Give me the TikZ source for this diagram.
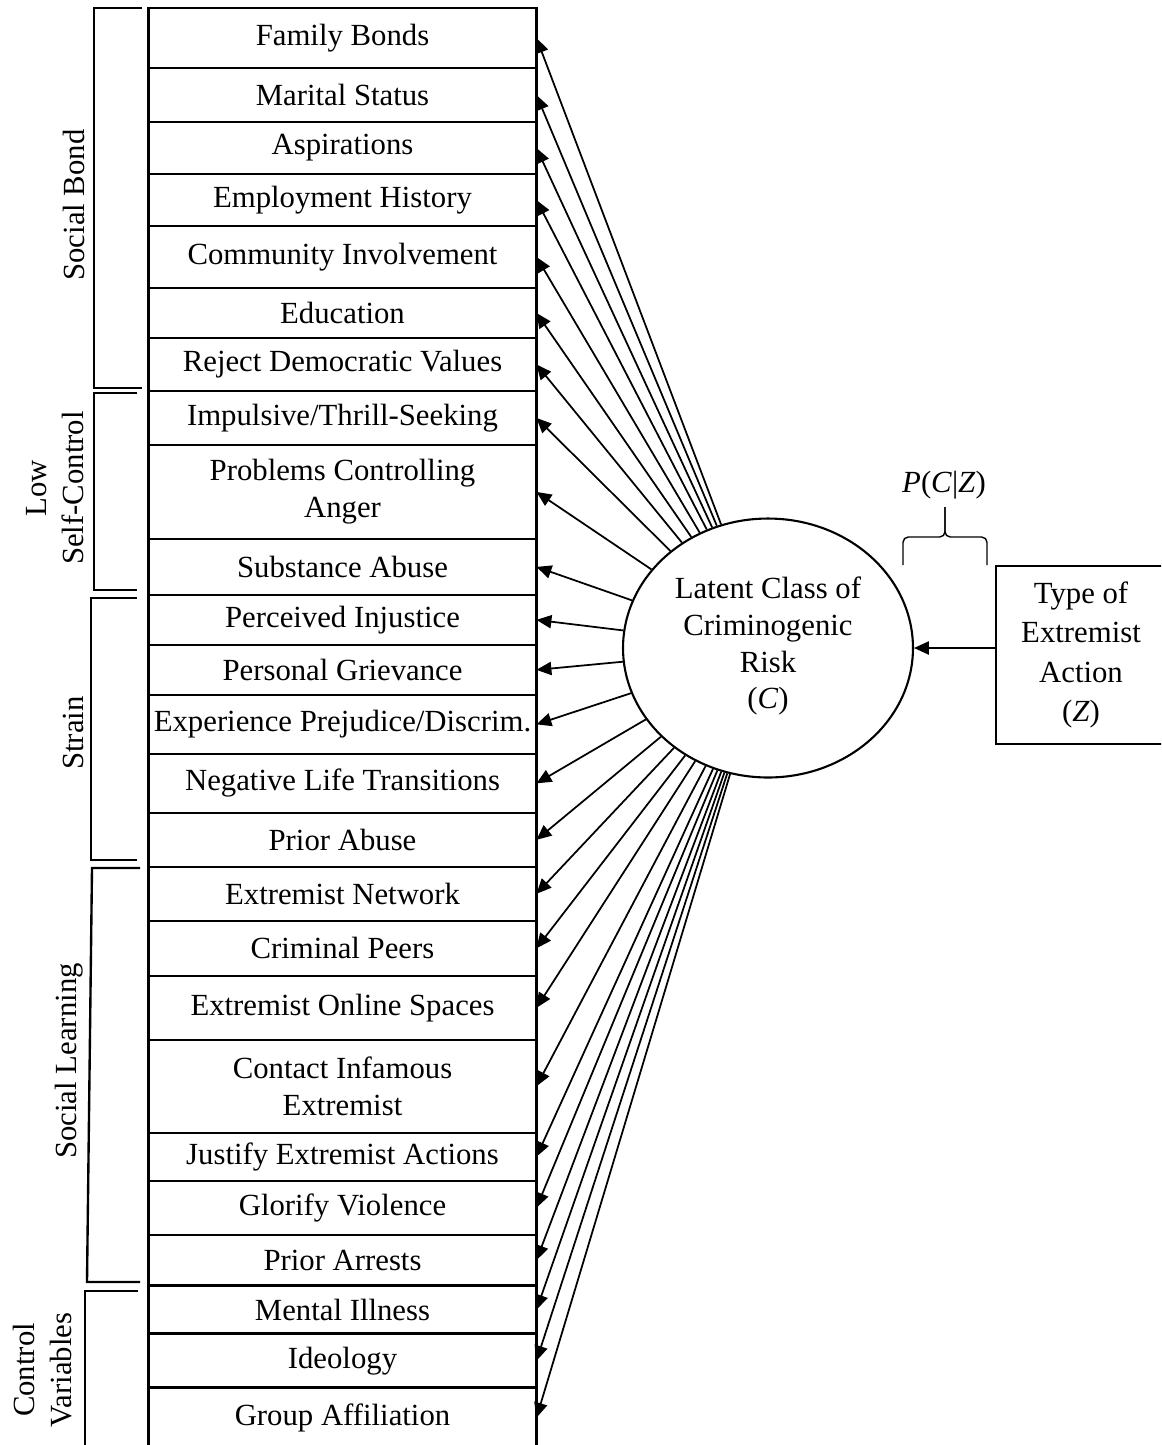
\documentclass[tikz,border=0pt]{standalone}
\usepackage{fontspec}
\setmainfont{Liberation Serif}
\usetikzlibrary{shapes.geometric, arrows.meta, positioning}
\tikzset{
  factor/.style={rectangle, draw=black, line width=1.45pt, minimum width=7.76cm, text centered, align=center, inner sep=0pt, outer sep=0pt},
  latent/.style={ellipse, draw=black, line width=1.2pt, minimum width=5.8cm, minimum height=5.18cm, text centered, align=center, inner sep=0pt},
  action/.style={rectangle, draw=black, line width=1.45pt, minimum width=3.4cm, minimum height=3.56cm, text centered, align=center, font=\fontsize{17.5}{22.5}\selectfont},
  group/.style={rotate=90, align=center, inner sep=0pt},
  bracket/.style={line width=1.35pt},
  brace/.style={line width=0.8pt, rounded corners=3pt},
  arrow/.style={line width=1pt, -{Triangle[length=8.5pt, width=7.5pt]}}
}
\begin{document}
\begin{tikzpicture}[x=0.02cm, y=-0.02cm, font=\fontsize{17.5}{21}\selectfont]
\useasboundingbox (0,0) rectangle (1161,1445);
\clip (0,0) rectangle (1161,1445);

% observed indicators
\node (bonds) [factor, minimum height=1.2cm] at (342.5,38) {Family Bonds};
\node (marital) [factor, minimum height=1.08cm, below=0pt of bonds] {Marital Status};
\node (aspire) [factor, minimum height=1.04cm, below=0pt of marital] {Aspirations};
\node (employ) [factor, minimum height=1.04cm, below=0pt of aspire] {Employment History};
\node (community) [factor, minimum height=1.24cm, below=0pt of employ] {Community Involvement};
\node (educ) [factor, minimum height=1.0cm, below=0pt of community] {Education};
\node (democ) [factor, minimum height=1.06cm, below=0pt of educ] {Reject Democratic Values};
\node (impulse) [factor, minimum height=1.08cm, below=0pt of democ] {Impulsive/Thrill-Seeking};
\node (anger) [factor, minimum height=1.88cm, below=0pt of impulse] {Problems Controlling\\Anger};
\node (substance) [factor, minimum height=1.12cm, below=0pt of anger] {Substance Abuse};
\node (injustice) [factor, minimum height=1.0cm, below=0pt of substance] {Perceived Injustice};
\node (grievance) [factor, minimum height=1.0cm, below=0pt of injustice] {Personal Grievance};
\node (prejudice) [factor, minimum height=1.18cm, below=0pt of grievance] {Experience Prejudice/Discrim.};
\node (transit) [factor, minimum height=1.18cm, below=0pt of prejudice] {Negative Life Transitions};
\node (abuse) [factor, minimum height=1.08cm, below=0pt of transit] {Prior Abuse};
\node (network) [factor, minimum height=1.08cm, below=0pt of abuse] {Extremist Network};
\node (peers) [factor, minimum height=1.1cm, below=0pt of network] {Criminal Peers};
\node (online) [factor, minimum height=1.28cm, below=0pt of peers] {Extremist Online Spaces};
\node (infamous) [factor, minimum height=1.86cm, below=0pt of online] {Contact Infamous\\Extremist};
\node (justify) [factor, minimum height=0.96cm, below=0pt of infamous] {Justify Extremist Actions};
\node (glorify) [factor, minimum height=1.08cm, below=0pt of justify] {Glorify Violence};
\node (arrests) [factor, minimum height=1.02cm, below=0pt of glorify] {Prior Arrests};
\node (mental) [factor, minimum height=0.96cm, below=0pt of arrests] {Mental Illness};
\node (ideology) [factor, minimum height=1.08cm, below=0pt of mental] {Ideology};
\node (affil) [factor, minimum height=1.2cm, below=0pt of ideology] {Group Affiliation};

% theory groups
\node (bondlab) [group] at (74,205) {Social Bond};
\node (controllab) [group] at (55,488) {Low\\Self-Control};
\node (strainlab) [group] at (73,733) {Strain};
\node (learnlab) [group] at (69,1061) {Social Learning};
\node (varlab) [group] at (43,1370) {Control\\Variables};
\draw [bracket] (142,8) -| (94,388) -- (142,388);
\draw [bracket] (137,393) -| (94,590) -- (137,590);
\draw [bracket] (137,598) -| (91,860) -- (137,860);
\draw [bracket] (140,868) -- (92,868) -- (87,1282) -- (140,1282);
\draw [bracket] (138,1291) -| (85,1460);

% latent class and covariate
\node (risk) [latent] at (768,648) {Latent Class of\\Criminogenic\\Risk\\(\textit{C})\\[-15pt]};
\node (type) [action] at (1081,655) {Type of\\Extremist\\Action\\(\textit{Z})};
\node (pcz) at (944,485) {\textit{P}(\textit{C}|\textit{Z})};
\draw [brace] (903,565) -- (903,537) -- (945,537) -- (945,507);
\draw [brace] (945,507) -- (945,537) -- (987,537) -- (987,565);

\draw [arrow] (type.west |- risk.east) -- (risk.east);
\foreach \f in {bonds, marital, aspire, employ, community, educ, democ, impulse, anger, substance, injustice, grievance, prejudice, transit, abuse, network, peers, online, infamous, justify, glorify, arrests, mental, ideology, affil}
  \draw [arrow] (risk) -- (\f.east);

\end{tikzpicture}
\end{document}
